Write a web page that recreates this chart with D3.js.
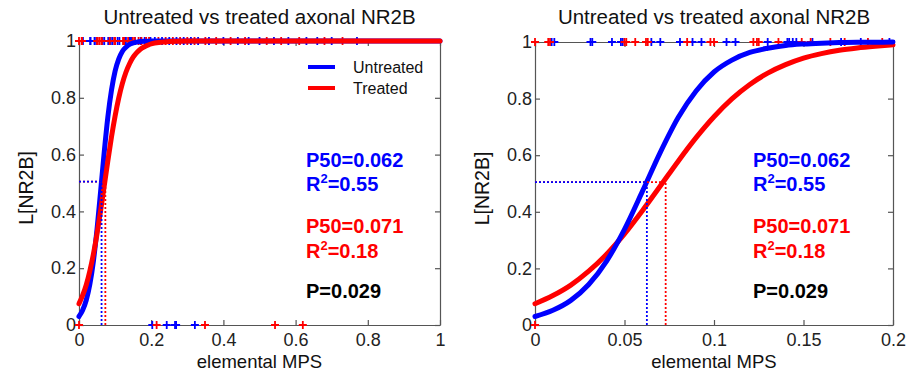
<!DOCTYPE html>
<html><head><meta charset="utf-8">
<script src="https://cdn.jsdelivr.net/npm/d3@7"></script>
<style>
body{margin:0;background:#fff;}
svg{display:block;font-family:"Liberation Sans",Arial,sans-serif;}
</style></head><body>
<svg id="c" width="906" height="372"></svg>
<script>
// ---- data ----
const titleText = "Untreated vs treated axonal NR2B";
const xLabel = "elemental MPS";
const yLabel = "L[NR2B]";
const seriesNames = ["Untreated", "Treated"];
const seriesColors = ["#0000ff", "#ff0000"];
// fitted curves
const curveX = [0,0.01,0.02,0.03,0.04,0.05,0.06,0.07,0.08,0.09,0.10,0.11,0.12,0.13,0.14,0.15,0.16,0.17,0.18,0.19,0.20,0.25,0.30,0.40,1.0];
const untreatedFit = [0.030,0.052,0.087,0.143,0.226,0.338,0.472,0.610,0.733,0.827,0.894,0.936,0.963,0.978,0.988,0.993,0.996,0.998,0.999,0.999,1.0,1.0,1.0,1.0,1.0];
const treatedFit = [0.075,0.104,0.141,0.190,0.250,0.322,0.404,0.491,0.579,0.662,0.736,0.799,0.850,0.890,0.920,0.943,0.959,0.971,0.979,0.985,0.990,0.998,1.0,1.0,1.0];
// observed points at L=1
const untreatedOnes = [0.0093,0.0108,0.031,0.032,0.043,0.048,0.049,0.065,0.070,0.081,0.088,0.093,0.107,0.112,0.130,0.141,0.142,0.144,0.146,0.155,0.171,0.182,0.198,0.21,0.23,0.25,0.27,0.29,0.31,0.33,0.36,0.40,0.44,0.47,0.50,0.54,0.58,0.63,0.66,0.70,0.77];
const treatedOnes = [0,0.0074,0.0084,0.050,0.051,0.056,0.062,0.063,0.085,0.098,0.100,0.122,0.124,0.125,0.136,0.149,0.154,0.165,0.173,0.186,0.194,0.22,0.24,0.26,0.28,0.30,0.32,0.35,0.38,0.42,0.46,0.52,0.56,0.61,0.68,0.73];
// observed points at L=0
const untreatedZeros = [0.203,0.243,0.266,0.269,0.321];
const treatedZeros = [0,0.215,0.349,0.543,0.62];
// P50 markers
const p50Marks = [0.0625, 0.073];
const p50Level = 0.505;
// annotations
const p50Text = ["P50=0.062", "P50=0.071"];
const r2Text = ["0.55", "0.18"];
const pText = "P=0.029";
// ticks
const leftXTicks = [0,0.2,0.4,0.6,0.8,1];
const rightXTicks = [0,0.05,0.1,0.15,0.2];
const yTicks = [0,0.2,0.4,0.6,0.8,1];

const svg = d3.select("#c");
const axisColor = "#555";

function panel(cfg){
  const g = svg.append("g");
  const x = d3.scaleLinear().domain(cfg.xDomain).range([cfg.x0, cfg.x1]);
  const y = d3.scaleLinear().domain([0,1]).range([cfg.y0, cfg.y1]);
  const fmt = d => d3.format("~g")(d);

  const styleAxis = (sel, showText) => {
    sel.select(".domain").attr("stroke", axisColor).attr("stroke-width", 1.2);
    sel.selectAll(".tick line").attr("stroke", axisColor).attr("stroke-width", 1.2);
    sel.selectAll(".tick text").attr("fill", "#222").style("font-size", "18px")
      .style("display", showText ? null : "none");
  };
  g.append("g").attr("transform", `translate(0,${cfg.y0})`)
    .call(d3.axisBottom(x).tickValues(cfg.xTicks).tickFormat(fmt).tickSizeInner(-5).tickSizeOuter(0).tickPadding(8))
    .call(s => styleAxis(s, true));
  g.append("g").attr("transform", `translate(0,${cfg.y1})`)
    .call(d3.axisTop(x).tickValues(cfg.xTicks).tickSizeInner(-5).tickSizeOuter(0))
    .call(s => styleAxis(s, false));
  g.append("g").attr("transform", `translate(${cfg.x0},0)`)
    .call(d3.axisLeft(y).tickValues(yTicks).tickFormat(fmt).tickSizeInner(-5).tickSizeOuter(0).tickPadding(3))
    .call(s => styleAxis(s, true));
  g.append("g").attr("transform", `translate(${cfg.x1},0)`)
    .call(d3.axisRight(y).tickValues(yTicks).tickSizeInner(-5).tickSizeOuter(0))
    .call(s => styleAxis(s, false));

  g.append("text").attr("x", (cfg.x0+cfg.x1)/2).attr("y", 24).attr("text-anchor","middle")
    .style("font-size","20.5px").attr("fill","#111").text(titleText);
  g.append("text").attr("x", (cfg.x0+cfg.x1)/2).attr("y", 368).attr("text-anchor","middle")
    .style("font-size","18.5px").attr("fill","#111").text(xLabel);
  g.append("text").attr("transform", `translate(${cfg.x0-46},${(cfg.y0+cfg.y1)/2+5}) rotate(-90)`)
    .attr("text-anchor","middle").style("font-size","19.5px").attr("fill","#111").text(yLabel);

  const inDom = v => v >= cfg.xDomain[0] && v <= cfg.xDomain[1] + 1e-9;

  const plus = (data, level, color) => {
    const pts = data.filter(inDom);
    const mg = g.append("g").attr("stroke", color).attr("stroke-width", 1.8);
    mg.selectAll("path").data(pts).join("path")
      .attr("d", d => { const cx = x(d), cy = y(level);
        return `M${cx-4},${cy}H${cx+4}M${cx},${cy-4}V${cy+4}`; });
  };
  plus(untreatedOnes, 1, seriesColors[0]);
  plus(treatedOnes, 1, seriesColors[1]);
  plus(untreatedZeros, 0, seriesColors[0]);
  plus(treatedZeros, 0, seriesColors[1]);

  const fits = [untreatedFit, treatedFit];
  const line = d3.line().x(d => x(d[0])).y(d => y(d[1])).curve(d3.curveMonotoneX);
  cfg.order.forEach(i => {
    const pts = curveX.map((v,k) => [v, fits[i][k]]).filter(d => inDom(d[0]));
    g.append("path").attr("d", line(pts)).attr("fill","none")
      .attr("stroke", seriesColors[i]).attr("stroke-width", 5).attr("stroke-linecap","round");
  });

  [1,0].forEach(i => {
    const dg = g.append("g").attr("stroke", seriesColors[i]).attr("stroke-width", 1.8)
      .attr("stroke-dasharray", "2,2").attr("fill","none");
    dg.append("path").attr("d", `M${x(0)},${y(p50Level)}H${x(p50Marks[i])}`);
    dg.append("path").attr("d", `M${x(p50Marks[i])},${y(0)}V${y(p50Level)}`);
  });

  const ax = cfg.annX;
  const ann = (txt, yy, color, sup) => {
    const t = g.append("text").attr("x", ax).attr("y", yy).attr("fill", color)
      .style("font-size","20px").style("font-weight","bold");
    if (sup) {
      t.append("tspan").text("R");
      t.append("tspan").attr("dy", -8).style("font-size","13px").text("2");
      t.append("tspan").attr("dy", 8).text("=" + txt);
    } else t.text(txt);
  };
  ann(p50Text[0], 167, seriesColors[0]);
  ann(r2Text[0], 191, seriesColors[0], true);
  ann(p50Text[1], 233, seriesColors[1]);
  ann(r2Text[1], 258, seriesColors[1], true);
  ann(pText, 298, "#000");

  if (cfg.legend) {
    const lg = g.append("g");
    seriesNames.forEach((n, i) => {
      const yy = 67 + i * 21;
      lg.append("line").attr("x1", 308).attr("x2", 335).attr("y1", yy).attr("y2", yy)
        .attr("stroke", seriesColors[i]).attr("stroke-width", 4);
      lg.append("text").attr("x", 353).attr("y", yy + 5.5).style("font-size","16px")
        .attr("fill","#111").text(n);
    });
  }
}

panel({xDomain:[0,1], x0:79, x1:440, y0:325, y1:41, xTicks:leftXTicks, annX:306, legend:true, order:[0,1]});
panel({xDomain:[0,0.2], x0:535, x1:893, y0:325, y1:42, xTicks:rightXTicks, annX:753, legend:false, order:[1,0]});
</script>
</body></html>
